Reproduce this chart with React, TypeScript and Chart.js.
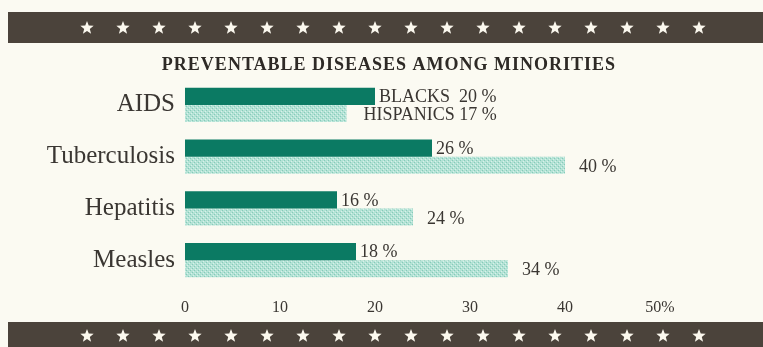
import React, { useEffect, useRef } from "react";
import { Chart, registerables } from "chart.js";

Chart.register(...registerables);

const categories = ["AIDS", "Tuberculosis", "Hepatitis", "Measles"];
const blacks = [20, 26, 16, 18];
const hispanics = [17, 40, 24, 34];
const blackLabels = ["BLACKS  20 %", "26 %", "16 %", "18 %"];
const hispanicLabels = ["HISPANICS 17 %", "40 %", "24 %", "34 %"];
const xTicks = [0, 10, 20, 30, 40, 50];
const titleText = "PREVENTABLE DISEASES AMONG MINORITIES";

const SERIF = "'Liberation Serif', 'DejaVu Serif', serif";
const BG = "#fbfaf2";
const BAND = "#4b433b";
const DARK = "#0b7a63";

function makePattern(): CanvasPattern | string {
  const c = document.createElement("canvas");
  c.width = 4;
  c.height = 4;
  const g = c.getContext("2d");
  if (!g) return "#b6e2d6";
  g.fillStyle = "#b3e2d5";
  g.fillRect(0, 0, 4, 4);
  g.fillStyle = "#86cbb9";
  g.fillRect(0, 0, 1, 1);
  g.fillRect(2, 2, 1, 1);
  g.fillStyle = "#d9f1ea";
  g.fillRect(1, 3, 1, 1);
  g.fillRect(3, 1, 1, 1);
  const p = g.createPattern(c, "repeat");
  return p || "#b6e2d6";
}

function drawStar(ctx: CanvasRenderingContext2D, cx: number, cy: number, r: number) {
  ctx.beginPath();
  for (let i = 0; i < 10; i++) {
    const rad = i % 2 === 0 ? r : r * 0.42;
    const a = -Math.PI / 2 + (i * Math.PI) / 5;
    const x = cx + rad * Math.cos(a);
    const y = cy + rad * Math.sin(a);
    if (i === 0) ctx.moveTo(x, y);
    else ctx.lineTo(x, y);
  }
  ctx.closePath();
  ctx.fill();
}

const decoPlugin = {
  id: "deco",
  beforeDraw(chart: any) {
    const ctx = chart.ctx as CanvasRenderingContext2D;
    ctx.save();
    ctx.fillStyle = BG;
    ctx.fillRect(0, 0, chart.width, chart.height);
    ctx.fillStyle = BAND;
    ctx.fillRect(8, 12, chart.width - 8, 31);
    ctx.fillRect(8, 322, chart.width - 8, 25);
    ctx.fillStyle = "#fbf8ee";
    for (let i = 0; i < 18; i++) {
      const x = 87 + i * 36;
      drawStar(ctx, x, 28, 7);
      drawStar(ctx, x, 336, 7);
    }
    ctx.fillStyle = "#2e2a26";
    ctx.font = `600 18px ${SERIF}`;
    try {
      (ctx as any).letterSpacing = "1px";
    } catch (e) {}
    ctx.textAlign = "center";
    ctx.textBaseline = "middle";
    ctx.fillText(titleText, 389, 65);
    ctx.restore();
  },
  afterDatasetsDraw(chart: any) {
    const ctx = chart.ctx as CanvasRenderingContext2D;
    ctx.save();
    ctx.fillStyle = "#3a3632";
    ctx.font = `18px ${SERIF}`;
    ctx.textAlign = "left";
    ctx.textBaseline = "middle";
    const m0 = chart.getDatasetMeta(0);
    const m1 = chart.getDatasetMeta(1);
    m0.data.forEach((bar: any, i: number) => {
      ctx.fillText(blackLabels[i], bar.x + 4, bar.y + 1);
    });
    m1.data.forEach((bar: any, i: number) => {
      const gap = i === 0 ? 17 : 14;
      ctx.fillText(hispanicLabels[i], bar.x + gap, bar.y + 2);
    });
    ctx.restore();
  },
};

export default function App() {
  const ref = useRef<HTMLCanvasElement>(null);
  useEffect(() => {
    document.body.style.margin = "0";
    document.body.style.background = BG;
    if (!ref.current) return;
    const chart = new Chart(ref.current, {
      type: "bar",
      data: {
        labels: categories,
        datasets: [
          {
            label: "Blacks",
            data: blacks,
            backgroundColor: DARK,
            borderWidth: 0,
            categoryPercentage: 0.66,
            barPercentage: 1,
          },
          {
            label: "Hispanics",
            data: hispanics,
            backgroundColor: makePattern() as any,
            borderWidth: 0,
            categoryPercentage: 0.66,
            barPercentage: 1,
          },
        ],
      },
      options: {
        indexAxis: "y",
        animation: false,
        responsive: false,
        maintainAspectRatio: false,
        layout: { padding: { top: 79, right: 103, left: 0, bottom: 0 } },
        plugins: {
          legend: { display: false },
          tooltip: { enabled: false },
          title: { display: false },
        },
        scales: {
          x: {
            type: "linear",
            min: 0,
            max: 50,
            grid: { display: false, drawTicks: false },
            border: { display: false },
            afterFit: (s: any) => {
              s.height = 61;
            },
            afterBuildTicks: (s: any) => {
              s.ticks = xTicks.map((v) => ({ value: v }));
            },
            ticks: {
              padding: 12,
              color: "#3a3632",
              font: { family: SERIF, size: 16 },
              callback: (v: any) => (Number(v) === 50 ? "50%" : String(v)),
            },
          },
          y: {
            grid: { display: false, drawTicks: false },
            border: { display: false },
            afterFit: (s: any) => {
              s.width = 185;
            },
            ticks: {
              padding: 10,
              color: "#3a3632",
              font: { family: SERIF, size: 25 },
            },
          },
        },
      },
      plugins: [decoPlugin],
    } as any);
    return () => chart.destroy();
  }, []);
  return <canvas ref={ref} width={763} height={347} style={{ display: "block" }} />;
}
